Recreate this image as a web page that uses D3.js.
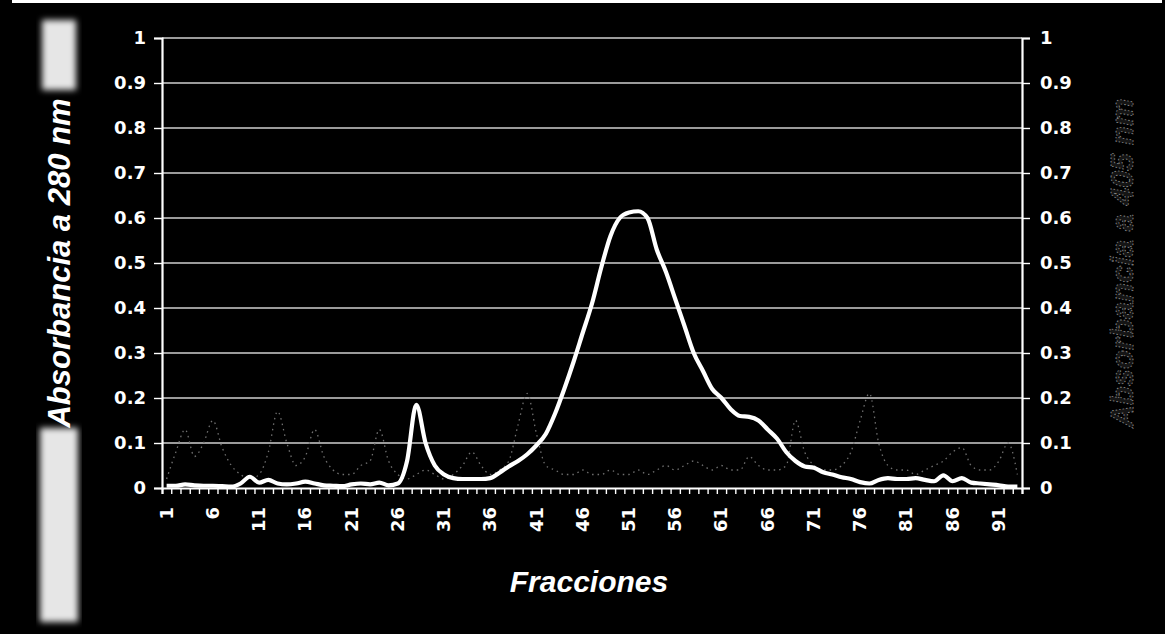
<!DOCTYPE html>
<html>
<head>
    <meta charset='utf-8'>
    <title>Fracciones</title>
    <script src='https://d3js.org/d3.v7.min.js'></script>
    <style>
      body { margin: 0; background: #000; }
      svg { display: block; }
    </style>
</head>
<body>
<div id="container"></div>

<script>

// ******* Data *******
var fractions = d3.range(1, 94);   // 1 .. 93
// Absorbancia a 280 nm (white line)
var abs280 = [0.005, 0.005, 0.008, 0.006, 0.005, 0.005, 0.004, 0.003, 0.01, 0.025,
              0.012, 0.018, 0.01, 0.008, 0.01, 0.014, 0.01, 0.006, 0.005, 0.004,
              0.008, 0.01, 0.008, 0.012, 0.006, 0.01, 0.06, 0.185, 0.1, 0.05,
              0.03, 0.022, 0.02, 0.02, 0.02, 0.022, 0.034, 0.048, 0.06, 0.075,
              0.095, 0.12, 0.165, 0.22, 0.28, 0.345, 0.41, 0.49, 0.56, 0.6,
              0.612, 0.615, 0.6, 0.53, 0.48, 0.42, 0.36, 0.3, 0.26, 0.22,
              0.2, 0.175, 0.16, 0.158, 0.15, 0.13, 0.11, 0.08, 0.06, 0.048,
              0.045, 0.035, 0.03, 0.024, 0.02, 0.013, 0.01, 0.018, 0.022, 0.02,
              0.02, 0.022, 0.018, 0.015, 0.028, 0.015, 0.022, 0.012, 0.01, 0.008,
              0.006, 0.003, 0.003];
// Absorbancia a 405 nm (faint, almost lost in the scan)
var abs405 = [0.02, 0.08, 0.13, 0.07, 0.1, 0.15, 0.09, 0.05, 0.03, 0.02,
              0.03, 0.08, 0.17, 0.1, 0.05, 0.07, 0.13, 0.07, 0.04, 0.03,
              0.03, 0.05, 0.06, 0.13, 0.06, 0.03, 0.02, 0.03, 0.04, 0.03,
              0.02, 0.03, 0.05, 0.08, 0.05, 0.03, 0.04, 0.06, 0.14, 0.21,
              0.12, 0.05, 0.04, 0.03, 0.03, 0.04, 0.03, 0.03, 0.04, 0.03,
              0.03, 0.04, 0.03, 0.04, 0.05, 0.04, 0.05, 0.06, 0.05, 0.04,
              0.05, 0.04, 0.04, 0.07, 0.05, 0.04, 0.04, 0.05, 0.15, 0.08,
              0.05, 0.04, 0.04, 0.05, 0.08, 0.15, 0.21, 0.1, 0.05, 0.04,
              0.04, 0.03, 0.04, 0.05, 0.06, 0.08, 0.09, 0.05, 0.04, 0.04,
              0.06, 0.1, 0.03];
var xTickLabels = [1, 6, 11, 16, 21, 26, 31, 36, 41, 46, 51, 56, 61, 66, 71, 76, 81, 86, 91];
var yTicks = [0, 0.1, 0.2, 0.3, 0.4, 0.5, 0.6, 0.7, 0.8, 0.9, 1];
var yTickLabels = ["0", "0.1", "0.2", "0.3", "0.4", "0.5", "0.6", "0.7", "0.8", "0.9", "1"];

// ******* Constants *******
const width = 1165,
      height = 634,
      margin = { top: 38, bottom: 146, left: 162, right: 143 };

var svg = d3.select("#container").append("svg")
            .attr("width", width)
            .attr("height", height)
            .style("background", "#000");

var defs = svg.append("defs");
defs.append("filter").attr("id", "fuzz")
    .append("feGaussianBlur").attr("stdDeviation", 3);

// ******* Scales *******
var xScale = d3.scaleLinear()
    .domain([0.5, fractions.length + 0.5])
    .range([margin.left, width - margin.right]);
var yScale = d3.scaleLinear()
    .domain([0, 1])
    .range([height - margin.bottom, margin.top]);

// scanned page edge + the bright band behind the left title
svg.append("rect").attr("x", 12).attr("y", 0).attr("width", 1150).attr("height", 3).attr("fill", "#fff");
var band = svg.append("g").attr("filter", "url(#fuzz)");
band.append("rect").attr("x", 42).attr("y", 20).attr("width", 34).attr("height", 70).attr("fill", "#e6e6e6");
band.append("rect").attr("x", 40).attr("y", 428).attr("width", 38).attr("height", 194).attr("fill", "#e6e6e6");

// ******* Gridlines *******
svg.append("g")
   .selectAll("line")
   .data(yTicks.filter(function(d) { return d > 0; }))
   .enter()
   .append("line")
   .attr("x1", xScale.range()[0])
   .attr("x2", xScale.range()[1])
   .attr("y1", function(d) { return yScale(d); })
   .attr("y2", function(d) { return yScale(d); })
   .attr("stroke", "#cfcfcf")
   .attr("stroke-width", 1.6);

// ******* Axes *******
var yFormat = function(d, i) { return yTickLabels[i]; };

var leftAxis = svg.append("g")
    .attr("transform", `translate(${margin.left}, 0)`)
    .call(d3.axisLeft(yScale).tickValues(yTicks).tickSize(8).tickPadding(8).tickFormat(yFormat));

var rightAxis = svg.append("g")
    .attr("transform", `translate(${width - margin.right}, 0)`)
    .call(d3.axisRight(yScale).tickValues(yTicks).tickSize(8).tickPadding(10).tickFormat(yFormat));

// category boundary ticks, Excel style
var bottomAxis = svg.append("g")
    .attr("transform", `translate(0, ${height - margin.bottom})`)
    .call(d3.axisBottom(xScale)
            .tickValues(d3.range(0.5, fractions.length + 1, 1))
            .tickSize(6)
            .tickFormat(""));

[leftAxis, rightAxis, bottomAxis].forEach(function(g) {
  g.select(".domain").attr("stroke", "#fff").attr("stroke-width", 2.2);
  g.selectAll(".tick line").attr("stroke", "#fff").attr("stroke-width", 1.4);
  g.selectAll(".tick text")
   .attr("fill", "#fff")
   .style("font-family", "DejaVu Sans")
   .style("font-weight", "bold")
   .style("font-size", "18px");
});

// x labels, rotated
svg.append("g")
   .selectAll("text")
   .data(xTickLabels)
   .enter()
   .append("text")
   .attr("transform", function(d) {
     return `translate(${xScale(d) + 6}, ${height - margin.bottom + 19}) rotate(-90)`;
   })
   .attr("text-anchor", "end")
   .attr("fill", "#fff")
   .style("font-family", "DejaVu Sans")
   .style("font-weight", "bold")
   .style("font-size", "18px")
   .text(function(d) { return d; });

// ******* Series *******
var seriesLine = d3.line()
    .x(function(d, i) { return xScale(fractions[i]); })
    .y(function(d) { return yScale(d); })
    .curve(d3.curveMonotoneX);

svg.append("path")
   .datum(abs405)
   .attr("d", seriesLine)
   .attr("fill", "none")
   .attr("stroke", "#707070")
   .attr("stroke-width", 1.3)
   .attr("stroke-dasharray", "1.5,4");

svg.append("path")
   .datum(abs280)
   .attr("d", seriesLine)
   .attr("fill", "none")
   .attr("stroke", "#fff")
   .attr("stroke-width", 4.2)
   .attr("stroke-linejoin", "round");

// ******* Titles *******
svg.append("text")
   .attr("x", (margin.left + width - margin.right) / 2 - 3)
   .attr("y", 592)
   .attr("text-anchor", "middle")
   .attr("fill", "#fff")
   .style("font-family", "Liberation Sans")
   .style("font-weight", "bold")
   .style("font-style", "italic")
   .style("font-size", "30px")
   .text("Fracciones");

svg.append("text")
   .attr("transform", `translate(70, ${(margin.top + height - margin.bottom) / 2}) rotate(-90)`)
   .attr("text-anchor", "middle")
   .attr("fill", "#fff")
   .style("font-family", "Liberation Sans")
   .style("font-weight", "bold")
   .style("font-style", "italic")
   .style("font-size", "31px")
   .text("Absorbancia a 280 nm");

svg.append("text")
   .attr("transform", `translate(1133, ${(margin.top + height - margin.bottom) / 2}) rotate(-90)`)
   .attr("text-anchor", "middle")
   .attr("fill", "#151515")
   .attr("stroke", "#8a8a8a")
   .attr("stroke-width", 0.9)
   .attr("stroke-dasharray", "1.5,2")
   .style("font-family", "Liberation Sans")
   .style("font-weight", "bold")
   .style("font-style", "italic")
   .style("font-size", "31px")
   .text("Absorbancia a 405 nm");
</script>
</body>
</html>
